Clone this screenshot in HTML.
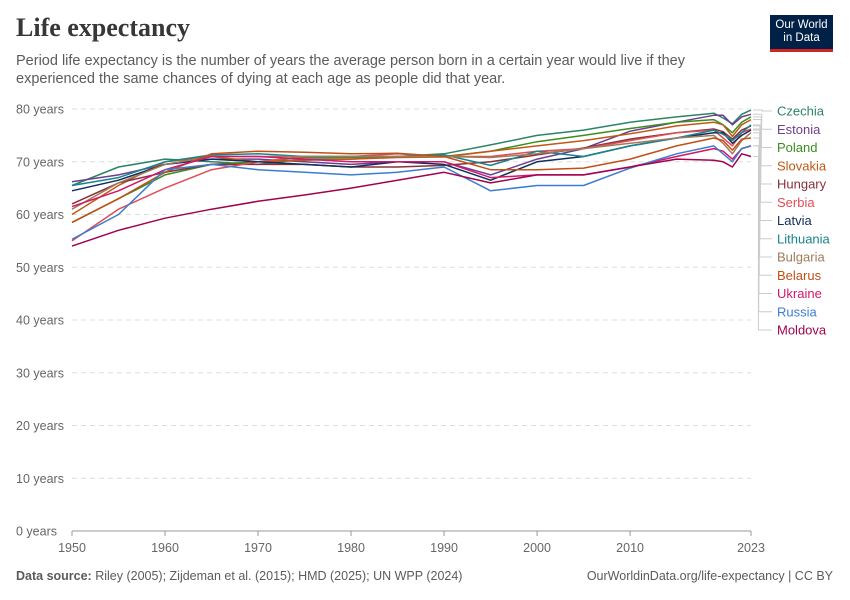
<!DOCTYPE html>
<html><head><meta charset="utf-8"><style>
body{margin:0;background:#fff;font-family:"Liberation Sans",sans-serif;}
#wrap{position:relative;width:850px;height:600px;overflow:hidden}
h1{position:absolute;left:16px;top:13px;margin:0;font-family:"Liberation Serif",serif;font-weight:700;font-size:26px;color:#373737}
.sub{position:absolute;left:16px;top:52px;font-size:14.5px;line-height:18px;color:#5b5b5b;width:720px}
.logo{position:absolute;left:770px;top:15px;width:63px;height:37px;background:#002147;color:#fff;font-size:11.5px;line-height:13px;text-align:center;padding-top:4px;box-sizing:border-box;border-bottom:3px solid #ce261e}
.foot{position:absolute;top:569px;font-size:12.5px;color:#5b5b5b}
</style></head><body><div id="wrap">
<h1>Life expectancy</h1>
<div class="sub">Period life expectancy is the number of years the average person born in a certain year would live if they experienced the same chances of dying at each age as people did that year.</div>
<div class="logo">Our World<br>in Data</div>
<svg id="svg" width="850" height="600" style="position:absolute;left:0;top:0"></svg>
<div class="foot" style="left:16px"><b>Data source:</b> Riley (2005); Zijdeman et al. (2015); HMD (2025); UN WPP (2024)</div>
<div class="foot" style="right:17px">OurWorldinData.org/life-expectancy | CC BY</div>
</div>
<script>
const countries=["Czechia","Estonia","Poland","Slovakia","Hungary","Serbia","Latvia","Lithuania","Bulgaria","Belarus","Ukraine","Russia","Moldova"];
const colors=["#2c8465","#6d3e91","#3a8e1e","#c05917","#883039","#e04d59","#0f2e5c","#18848f","#a07c5a","#c15016","#d3176b","#3d7dd0","#a1034f"];
const yTicks=[0,10,20,30,40,50,60,70,80];
const xTicks=[1950,1960,1970,1980,1990,2000,2010,2023];
const yearsStd=[1950,1955,1960,1965,1970,1975,1980,1985,1990,1995,2000,2005,2010,2015,2019,2020,2021,2022,2023];
const czechia=[65.5,69,70.5,70,69.5,70.5,70.5,71,71.5,73.2,75,76,77.5,78.5,79.2,78.3,77.2,79,79.8];
const estonia=[66.2,67.5,69.5,70.5,70.5,70,69.5,70,70,67.5,70.5,72.5,75.8,77.5,78.8,78.8,77,78.5,79];
const poland=[58.5,63,67.5,69.5,70,70.8,70.8,71,71,72,73.8,75,76.3,77.5,78,77,75.5,77.5,78.5];
const slovakia=[60,65.5,70,71,70,70.3,70.5,70.8,70.9,72,73,74,75.3,76.8,77.5,77,74.8,77,78];
const hungary=[62,66,68,69.5,69.5,69.5,69,69,69.3,70,71.3,72.6,74.3,75.5,76.2,75.7,74.3,76,76.8];
const serbia=[55,61,65,68.5,70,71,71,71.5,71,71,72,72.5,74,75.5,76,74.5,73,75.5,76.2];
const latvia=[64.5,66.5,69.5,70.5,70,69.5,69,70,69.5,66.5,70,71,73,74.5,75.5,75.5,73.5,75,76];
const lithuania=[65.5,67,70,71.3,71.5,71,71,71,71.3,69.3,72,71,73,74.5,76,75.2,74,75.5,77];
const bulgaria=[61,66,69.5,71,71,71,71,71,71,70.8,71.5,72.5,73.5,74.5,75,73.5,71.5,74,75.5];
const belarus=[58.5,63,68,71.5,72,71.8,71.5,71.6,71,68.5,68.5,68.8,70.5,73,74.5,74,72.2,74.3,74.5];
const ukraine=[61.5,64.5,68.5,71,71,70.5,70,70,70,67,67.5,67.5,69,71,72.5,72,70.5,72.5,73];
const russia=[55.3,60,68.5,69.5,68.5,68,67.5,68,69,64.5,65.5,65.5,68.8,71.5,73,71.5,70,72.5,73];
const moldova=[54,57,59.3,61,62.5,63.7,65,66.5,68,66,67.5,67.5,69,70.5,70.3,70,69,71.5,71];
const series=[czechia,estonia,poland,slovakia,hungary,serbia,latvia,lithuania,bulgaria,belarus,ukraine,russia,moldova];
const X0=72,X1=751,Y0=531,Y80=109;
const xs=y=>X0+(y-1950)*(X1-X0)/73;
const ys=v=>Y0-v*(Y0-Y80)/80;
const svg=document.getElementById('svg');const NS="http://www.w3.org/2000/svg";
function mk(t,a,txt){const e=document.createElementNS(NS,t);for(const k in a)e.setAttribute(k,a[k]);if(txt!==undefined)e.textContent=txt;svg.appendChild(e);return e;}
yTicks.forEach(v=>{
 const g=mk('line',{x1:X0,x2:X1,y1:ys(v),y2:ys(v),stroke:v?'#ddd':'#999','stroke-dasharray':v?'5,4':'none'});
 
 
 const t=mk('text',{x:16,y:ys(v)+4.5,'font-size':12.5,fill:'#666'},v+' years');
 
 
});
xTicks.forEach(y=>{
 const t=mk('text',{x:xs(y),y:552,'font-size':12.5,fill:'#666','text-anchor':'middle'},y);
 
 
 const l=mk('line',{x1:xs(y),x2:xs(y),y1:531,y2:536,stroke:'#999'});
 
 
});
series.forEach((s,i)=>{
 const pts=s.map((v,j)=>xs(yearsStd[j]).toFixed(1)+','+ys(v).toFixed(1)).join(' ');
 const p=mk('polyline',{points:pts,fill:'none',stroke:colors[i],'stroke-width':1.5,'stroke-linejoin':'round'});
 
 
 const ly=111+i*18.25;const ey=ys(s[s.length-1]);
 const c=mk('polyline',{points:`${X1+2},${ey} ${762-i*0.3},${ey} ${762-i*0.3},${ly} 772,${ly}`,fill:'none',stroke:'#ccc','stroke-width':1});
 
 
 const t=mk('text',{x:777,y:ly+4.5,'font-size':13,fill:colors[i]},countries[i]);
 
 
});
</script></body></html>
